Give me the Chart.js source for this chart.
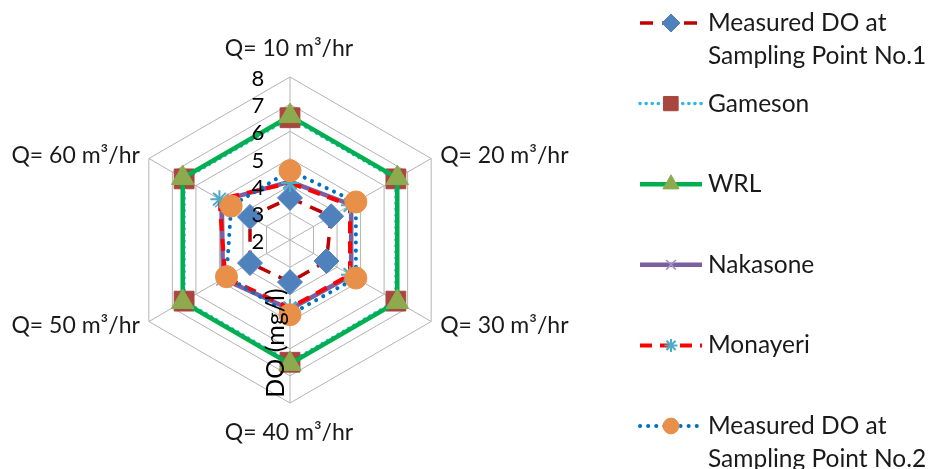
<!DOCTYPE html>
<html>
<head>
<meta charset="utf-8">
<script src="https://cdn.jsdelivr.net/npm/chart.js@4.4.1/dist/chart.umd.min.js"></script>
<style>
  html, body { margin: 0; padding: 0; background: #ffffff; }
  #wrap { width: 931px; height: 469px; }
</style>
</head>
<body>
<div id="wrap"><canvas id="doChart" width="931" height="469"></canvas></div>
<script>
// Datos
const flowLabels = ['Q= 10 m³/hr', 'Q= 20 m³/hr', 'Q= 30 m³/hr', 'Q= 40 m³/hr', 'Q= 50 m³/hr', 'Q= 60 m³/hr'];
const tickValues = [2, 3, 4, 5, 6, 7, 8];

const doSampling1 = [3.55, 3.75, 3.55, 3.55, 3.7, 3.7];
const doGameson = [6.5, 6.5, 6.5, 6.5, 6.5, 6.5];
const doWrl = [6.56, 6.56, 6.56, 6.56, 6.56, 6.56];
const doNakasone = [4.15, 4.6, 4.6, 4.55, 4.85, 4.9];
const doMonayeri = [4.1, 4.55, 4.55, 4.5, 4.75, 5.0];
const doSampling2 = [4.55, 4.8, 4.8, 4.75, 4.7, 4.5];

const seriesNames = [
    ['Measured DO at', 'Sampling Point No.1'],
    ['Gameson'],
    ['WRL'],
    ['Nakasone'],
    ['Monayeri'],
    ['Measured DO at', 'Sampling Point No.2']
];
const axisTitle = 'DO (mg/l)';

const FONT = 'Lato, "Open Sans", sans-serif';

// Estilos de cada serie (parecidos a Excel)
const seriesStyles = [
    { borderColor: '#C00000', borderWidth: 3.5, borderDash: [13, 9], pointStyle: 'rectRot', pointRadius: 12.5,
      pointBackgroundColor: '#4F81BD', pointBorderColor: '#4F81BD', pointBorderWidth: 1 },
    { borderColor: '#29B6EC', borderWidth: 3.5, borderDash: [0.1, 6], borderCapStyle: 'round', pointStyle: 'rect', pointRadius: 14,
      pointBackgroundColor: '#A9463F', pointBorderColor: '#A9463F', pointBorderWidth: 1 },
    { borderColor: '#00B050', borderWidth: 4.5, pointStyle: 'triangle', pointRadius: 13,
      pointBackgroundColor: '#8DAA4E', pointBorderColor: '#8DAA4E', pointBorderWidth: 1 },
    { borderColor: '#7B5FA1', borderWidth: 4.5, pointStyle: 'crossRot', pointRadius: 9.5,
      pointBackgroundColor: '#A48FC4', pointBorderColor: '#A48FC4', pointBorderWidth: 1.5 },
    { borderColor: '#FF0000', borderWidth: 4, borderDash: [12, 8], pointStyle: 'star', pointRadius: 9,
      pointBackgroundColor: '#4BACC6', pointBorderColor: '#4BACC6', pointBorderWidth: 2 },
    { borderColor: '#0070C0', borderWidth: 4, borderDash: [0.1, 8], borderCapStyle: 'round', pointStyle: 'circle', pointRadius: 11,
      pointBackgroundColor: '#E8904A', pointBorderColor: '#E8904A', pointBorderWidth: 1 }
];

const seriesValues = [doSampling1, doGameson, doWrl, doNakasone, doMonayeri, doSampling2];

function buildDataset(values, index) {
    return Object.assign({
        label: seriesNames[index].join(' '),
        data: values,
        fill: false,
        tension: 0,
        order: seriesValues.length - 1 - index,
        pointHoverRadius: seriesStyles[index].pointRadius
    }, seriesStyles[index]);
}

// Leyenda, etiquetas de ejes y título dibujados a mano
const decorPlugin = {
    id: 'excelDecor',
    afterDraw(chart) {
        const ctx = chart.ctx;
        const scale = chart.scales.r;
        const cx = scale.xCenter;
        const cy = scale.yCenter;

        ctx.save();
        ctx.fillStyle = '#000000';

        // Valores del eje radial
        ctx.font = '22px ' + FONT;
        ctx.textAlign = 'center';
        ctx.textBaseline = 'middle';
        tickValues.forEach(v => {
            const d = scale.getDistanceFromCenterForValue(v);
            ctx.fillText(String(v), cx - 32, cy - d + 2);
        });

        // Etiquetas de categorías
        ctx.font = '23px ' + FONT;
        ctx.fillStyle = '#1a1a1a';
        flowLabels.forEach((label, i) => {
            const p = scale.getPointPositionForValue(i, scale.max);
            let x = p.x, y = p.y;
            if (i === 0) { ctx.textAlign = 'center'; y -= 28; x -= 1; }
            else if (i === 3) { ctx.textAlign = 'center'; y += 30; x -= 1; }
            else if (i < 3) { ctx.textAlign = 'left'; x += 9; y += (i === 1 ? -3 : 4); }
            else { ctx.textAlign = 'right'; x -= 9; y += (i === 4 ? 4 : -3); }
            ctx.fillText(label, x, y);
        });

        // Título del eje (vertical)
        ctx.save();
        ctx.translate(cx - 14, cy + 103);
        ctx.rotate(-Math.PI / 2);
        ctx.font = '25px ' + FONT;
        ctx.textAlign = 'center';
        ctx.fillStyle = '#000000';
        ctx.fillText(axisTitle, 0, 0);
        ctx.restore();

        // Leyenda
        const legendTop = 23;
        const legendStep = 80.6;
        chart.data.datasets.forEach((ds, i) => {
            const y = legendTop + i * legendStep;
            ctx.save();
            ctx.strokeStyle = ds.borderColor;
            ctx.lineWidth = ds.borderWidth;
            ctx.lineCap = ds.borderCapStyle || 'butt';
            ctx.setLineDash(ds.borderDash || []);
            ctx.beginPath();
            ctx.moveTo(640, y);
            ctx.lineTo(702, y);
            ctx.stroke();
            ctx.setLineDash([]);
            ctx.fillStyle = ds.pointBackgroundColor;
            ctx.strokeStyle = ds.pointBorderColor;
            ctx.lineWidth = ds.pointBorderWidth;
            Chart.helpers.drawPoint(ctx, {
                pointStyle: ds.pointStyle,
                radius: ds.pointRadius * 0.72,
                rotation: 0,
                borderWidth: ds.pointBorderWidth
            }, 671, y);
            ctx.restore();

            ctx.font = '24.5px ' + FONT;
            ctx.textAlign = 'left';
            ctx.textBaseline = 'middle';
            ctx.fillStyle = '#1a1a1a';
            seriesNames[i].forEach((line, k) => {
                ctx.fillText(line, 708, y + k * 33);
            });
        });

        ctx.restore();
    }
};

const chartElement = document.getElementById('doChart');
const doChart = new Chart(chartElement.getContext('2d'), {
    type: 'radar',
    data: {
        labels: flowLabels,
        datasets: seriesValues.map(buildDataset)
    },
    options: {
        responsive: false,
        animation: false,
        layout: { padding: { left: 127, right: 478, top: 77, bottom: 66 } },
        plugins: {
            legend: { display: false },
            tooltip: { enabled: false }
        },
        scales: {
            r: {
                min: 2,
                max: 8,
                ticks: { stepSize: 1, display: false },
                pointLabels: { display: false },
                grid: { color: '#B3B3B3', lineWidth: 1 },
                angleLines: { color: '#B3B3B3', lineWidth: 1 }
            }
        }
    },
    plugins: [decorPlugin]
});
</script>
</body>
</html>
